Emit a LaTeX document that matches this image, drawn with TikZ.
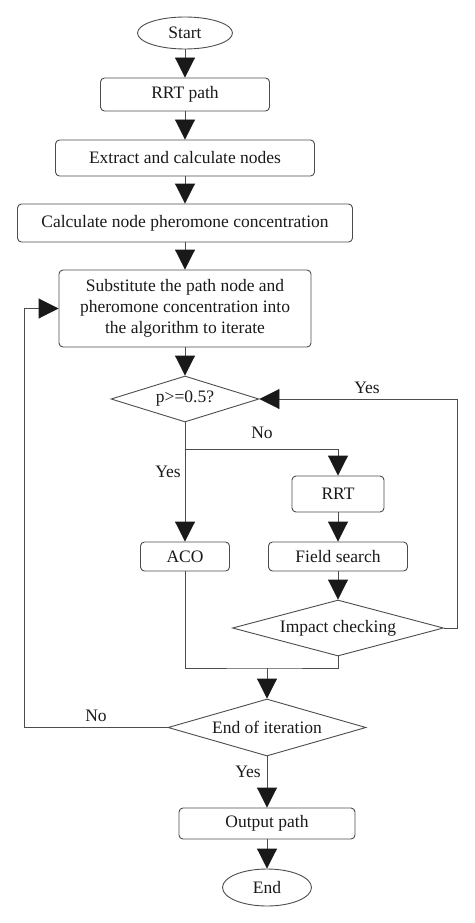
\documentclass[tikz,border=0pt]{standalone}
\usepackage{fontspec}
\setmainfont{Liberation Serif}
\usetikzlibrary{shapes.geometric,arrows.meta}
\begin{document}
\begin{tikzpicture}[x=1pt,y=-1pt,
  every node/.style={font=\fontsize{17.5}{21}\selectfont, text=black!90},
  proc/.style={draw=black!70, line width=0.9pt, rounded corners=4pt, inner sep=0pt},
  term/.style={draw=black!70, line width=0.9pt, ellipse, inner sep=0pt},
  cond/.style={draw=black!70, line width=0.9pt, diamond, inner sep=0pt, shape aspect=#1},
  line/.style={draw=black!70, line width=0.9pt},
  arr/.style={line, -{Triangle[width=20pt,length=20pt,color=black!90]}}]
\useasboundingbox (0,0) rectangle (474,923);
\node [term, minimum width=95pt, minimum height=32pt] (start) at (185,33) {Start};
\node [proc, minimum width=169pt, minimum height=33pt] (rrtpath) at (185,94.5) {RRT path};
\node [proc, minimum width=259pt, minimum height=36pt] (extract) at (185,158) {Extract and calculate nodes};
\node [proc, minimum width=335pt, minimum height=38pt] (calc) at (185,223) {Calculate node pheromone concentration};
\node [proc, minimum width=252pt, minimum height=77pt, align=center] (subst) at (185,308.5) {Substitute the path node and\\pheromone concentration into\\the algorithm to iterate};
\node [cond=3.2, minimum width=148pt, minimum height=46pt] (pcheck) at (185,399) {p>=0.5?};
\node [proc, minimum width=89pt, minimum height=29pt] (aco) at (185,556.5) {ACO};
\node [proc, minimum width=92pt, minimum height=36pt] (rrt) at (338,494) {RRT};
\node [proc, minimum width=139pt, minimum height=29pt] (field) at (338,556.5) {Field search};
\node [cond=3.77, minimum width=211pt, minimum height=56pt] (impact) at (338,628) {Impact checking};
\node [cond=3.47, minimum width=198pt, minimum height=57pt] (endit) at (267,727.5) {End of iteration};
\node [proc, minimum width=176pt, minimum height=31pt] (output) at (267,823.5) {Output path};
\node [term, minimum width=89pt, minimum height=37pt] (end) at (267,887.5) {End};
\coordinate (split) at (185,449);
\coordinate (ret) at (457,628);
\coordinate (join) at (267,668);
\coordinate (loopl) at (24,727.5);
\draw [arr] (start) -- (rrtpath);
\draw [arr] (rrtpath) -- (extract);
\draw [arr] (extract) -- (calc);
\draw [arr] (calc) -- (subst);
\draw [arr] (subst) -- (pcheck);
\draw [arr] (pcheck) -- (aco);
\draw [arr] (split) -| (rrt);
\draw [arr] (rrt) -- (field);
\draw [arr] (field) -- (impact);
\draw [arr] (impact.east) -- (ret) |- (pcheck.east);
\draw [line] (aco.south) |- (join) -| (impact.south);
\draw [arr] (join) -- (endit);
\draw [arr] (endit.west) -- (loopl) |- (subst.west);
\draw [arr] (endit) -- (output);
\draw [arr] (output) -- (end);
\node (yes1) at (367,388) {Yes};
\node (no1) at (262,433) {No};
\node (yes2) at (168,472) {Yes};
\node (no2) at (96,716) {No};
\node (yes3) at (248,772) {Yes};
\end{tikzpicture}
\end{document}
